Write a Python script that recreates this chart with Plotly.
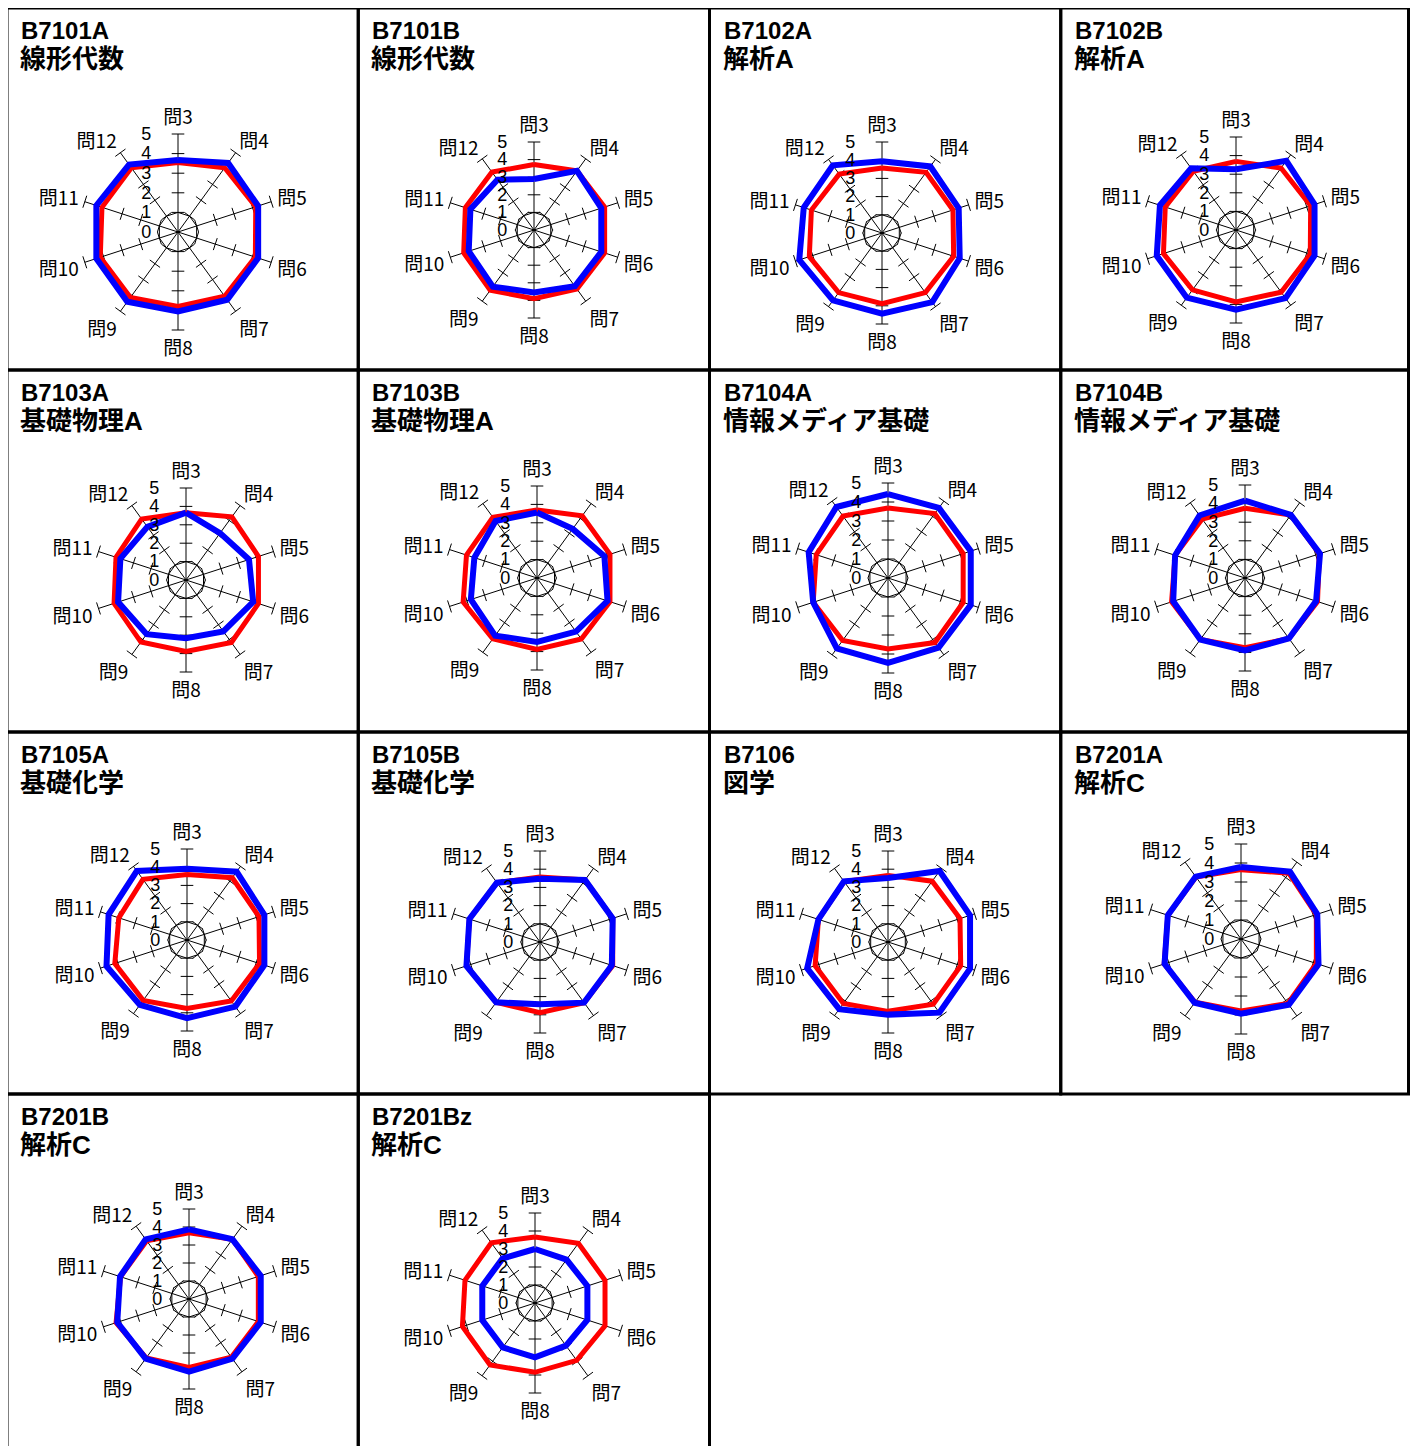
import plotly.graph_objects as go

W, H = 1402, 1438
OFF = 8  # page body margin

# ===== Data =====
questions = ["問3", "問4", "問5", "問6", "問7", "問8", "問9", "問10", "問11", "問12"]
radial_ticks = [0, 1, 2, 3, 4, 5]

codes = ["B7101A", "B7101B", "B7102A", "B7102B",
         "B7103A", "B7103B", "B7104A", "B7104B",
         "B7105A", "B7105B", "B7106", "B7201A",
         "B7201B", "B7201Bz"]
subjects = ["線形代数", "線形代数", "解析A", "解析A",
            "基礎物理A", "基礎物理A", "情報メディア基礎", "情報メディア基礎",
            "基礎化学", "基礎化学", "図学", "解析C",
            "解析C", "解析C"]

red_scores = [
    [3.55, 4.05, 4.17, 4.15, 4.05, 3.80, 4.13, 4.17, 4.08, 4.05],
    [3.72, 4.15, 4.22, 4.22, 4.15, 3.90, 4.23, 4.20, 4.10, 4.07],
    [3.57, 4.12, 4.10, 4.14, 4.05, 3.88, 4.05, 4.20, 4.08, 4.00],
    [3.69, 4.12, 4.22, 4.20, 4.13, 3.87, 3.98, 4.10, 4.00, 3.90],
    [3.66, 4.24, 4.14, 4.14, 4.20, 3.88, 4.17, 4.11, 4.00, 4.10],
    [3.70, 4.18, 4.17, 4.17, 4.10, 3.88, 4.09, 4.22, 4.03, 4.08],
    [3.68, 4.19, 4.16, 4.16, 4.20, 3.74, 4.06, 4.14, 3.97, 4.03],
    [3.75, 4.19, 4.20, 4.10, 4.02, 3.75, 4.09, 4.15, 3.95, 3.92],
    [3.60, 4.23, 4.16, 4.19, 4.14, 3.76, 4.10, 4.17, 3.94, 4.12],
    [3.57, 4.21, 4.20, 4.20, 4.12, 3.88, 4.10, 4.25, 4.08, 4.03],
    [3.66, 4.13, 4.16, 4.20, 4.23, 3.81, 4.17, 4.21, 4.02, 4.10],
    [3.65, 4.28, 4.17, 4.17, 4.20, 3.79, 4.12, 4.25, 4.05, 4.03],
    [3.68, 4.10, 4.05, 4.05, 4.00, 3.80, 4.05, 4.26, 4.00, 4.00],
    [3.67, 4.10, 4.09, 4.09, 3.94, 3.85, 4.25, 4.24, 4.09, 4.13],
]
blue_scores = [
    [3.67, 4.35, 4.30, 4.30, 4.27, 4.05, 4.40, 4.38, 4.38, 4.25],
    [2.90, 4.15, 4.02, 4.02, 3.95, 3.55, 3.98, 3.90, 3.80, 3.53],
    [3.94, 4.52, 4.43, 4.49, 4.70, 4.43, 4.58, 4.78, 4.52, 4.60],
    [3.27, 4.60, 4.44, 4.44, 4.53, 4.28, 4.50, 4.48, 4.30, 4.10],
    [3.66, 3.15, 3.60, 3.84, 3.45, 3.16, 3.64, 3.88, 3.75, 3.57],
    [3.56, 3.30, 3.85, 4.03, 3.60, 3.47, 3.87, 3.78, 3.58, 3.83],
    [4.42, 4.56, 4.58, 4.58, 4.53, 4.47, 4.58, 4.14, 4.39, 4.62],
    [4.16, 4.19, 4.24, 4.02, 4.02, 3.89, 4.09, 4.06, 3.95, 4.16],
    [3.92, 4.64, 4.47, 4.47, 4.52, 4.29, 4.41, 4.65, 4.53, 4.69],
    [3.48, 4.21, 4.20, 4.15, 4.12, 3.42, 4.10, 4.25, 4.08, 4.03],
    [3.52, 4.82, 4.74, 4.74, 4.80, 3.99, 4.56, 4.67, 4.02, 4.12],
    [3.79, 4.38, 4.22, 4.29, 4.28, 3.93, 4.15, 4.23, 4.05, 4.06],
    [3.87, 4.10, 4.19, 4.19, 4.10, 4.04, 4.10, 4.19, 4.03, 4.10],
    [3.00, 2.98, 3.06, 3.06, 2.93, 3.02, 3.05, 3.08, 3.08, 3.06],
]

# ===== Layout (page pixels) =====
# chart centre and radius of each radar
centres = [(178, 232), (534, 230), (882, 233), (1236, 230),
           (186, 580), (537, 578), (888, 578), (1245, 578),
           (187, 940), (540, 942), (888, 942), (1241, 939),
           (189, 1299), (535, 1303)]
radii = [98, 88, 91, 93, 92, 92, 95, 93, 91, 91, 91, 95, 90, 90]

grid_x0, grid_y0 = 7, 8
cell_w, cell_h = 351.25, 362
n_cols = 4

RED = "#ff0000"
BLUE = "#0000ff"
TXT = "Liberation Sans, Noto Sans CJK JP, sans-serif"
JP = "Noto Sans CJK JP, sans-serif"


def px(x):
    return (x - OFF) / W


def py(y):
    return 1 - (y - OFF) / H


n = len(questions)
angles = [k * 360 / n for k in range(n)]

fig = go.Figure()
layout_polars = {}
shapes = []
annotations = []

for i, code in enumerate(codes):
    sub = "polar" if i == 0 else f"polar{i + 1}"
    cx, cy = centres[i]
    R = radii[i]

    layout_polars[sub] = dict(
        domain=dict(x=[px(cx - R), px(cx + R)], y=[py(cy + R), py(cy - R)]),
        bgcolor="white",
        gridshape="linear",
        radialaxis=dict(range=[0, 5], tickvals=radial_ticks, showgrid=False,
                        showline=False, angle=90, side="counterclockwise",
                        ticks="outside", ticklen=20, tickcolor="rgba(0,0,0,0)",
                        tickangle=90,
                        tickfont=dict(family=TXT, size=18, color="black")),
        angularaxis=dict(tickmode="array", tickvals=angles, ticktext=questions,
                         rotation=90, direction="clockwise", showline=False,
                         showgrid=True, gridcolor="black", gridwidth=1,
                         ticks="outside", ticklen=2, tickcolor="rgba(0,0,0,0)",
                         tickfont=dict(family=JP, size=19, color="black")),
    )

    # inner gridline at 1
    fig.add_trace(go.Scatterpolar(
        r=[radial_ticks[1]] * (n + 1), theta=angles + angles[:1], mode="lines",
        line=dict(color="black", width=1), subplot=sub, showlegend=False,
        hoverinfo="skip"))

    # tick marks across the spokes
    tr, tt = [], []
    for a in angles:
        for v in radial_ticks[1:]:
            tr.append(v)
            tt.append(a)
    fig.add_trace(go.Scatterpolar(
        r=tr, theta=tt, mode="markers",
        marker=dict(symbol="line-ew", size=9, angle=tt,
                    line=dict(color="black", width=1)),
        subplot=sub, showlegend=False, hoverinfo="skip"))

    for vals, col, lw in ((red_scores[i], RED, 5), (blue_scores[i], BLUE, 6)):
        fig.add_trace(go.Scatterpolar(
            r=vals + vals[:1], theta=angles + angles[:1], mode="lines",
            line=dict(color=col, width=lw), subplot=sub, showlegend=False))

    # cell border and title
    row, col = divmod(i, n_cols)
    x0 = grid_x0 + col * cell_w
    y0 = grid_y0 + row * cell_h
    x1 = min(x0 + cell_w, OFF + W - 1.5)
    shapes.append(dict(type="rect", xref="paper", yref="paper",
                       x0=px(x0), x1=px(x1),
                       y0=py(y0 + cell_h), y1=py(y0),
                       line=dict(color="black", width=3)))
    annotations.append(dict(text=code, xref="paper", yref="paper",
                            x=px(x0 + 12), y=py(y0 + 22),
                            xanchor="left", yanchor="middle", showarrow=False,
                            font=dict(family=TXT, size=24, color="black",
                                      weight="bold")))
    annotations.append(dict(text=subjects[i], xref="paper", yref="paper",
                            x=px(x0 + 11), y=py(y0 + 51),
                            xanchor="left", yanchor="middle", showarrow=False,
                            font=dict(family=TXT, size=26, color="black",
                                      weight="bold")))

fig.update_layout(
    width=W, height=H,
    margin=dict(l=0, r=0, t=0, b=0),
    paper_bgcolor="white",
    plot_bgcolor="white",
    showlegend=False,
    shapes=shapes,
    annotations=annotations,
    **layout_polars,
)

fig.write_html("out.html")
